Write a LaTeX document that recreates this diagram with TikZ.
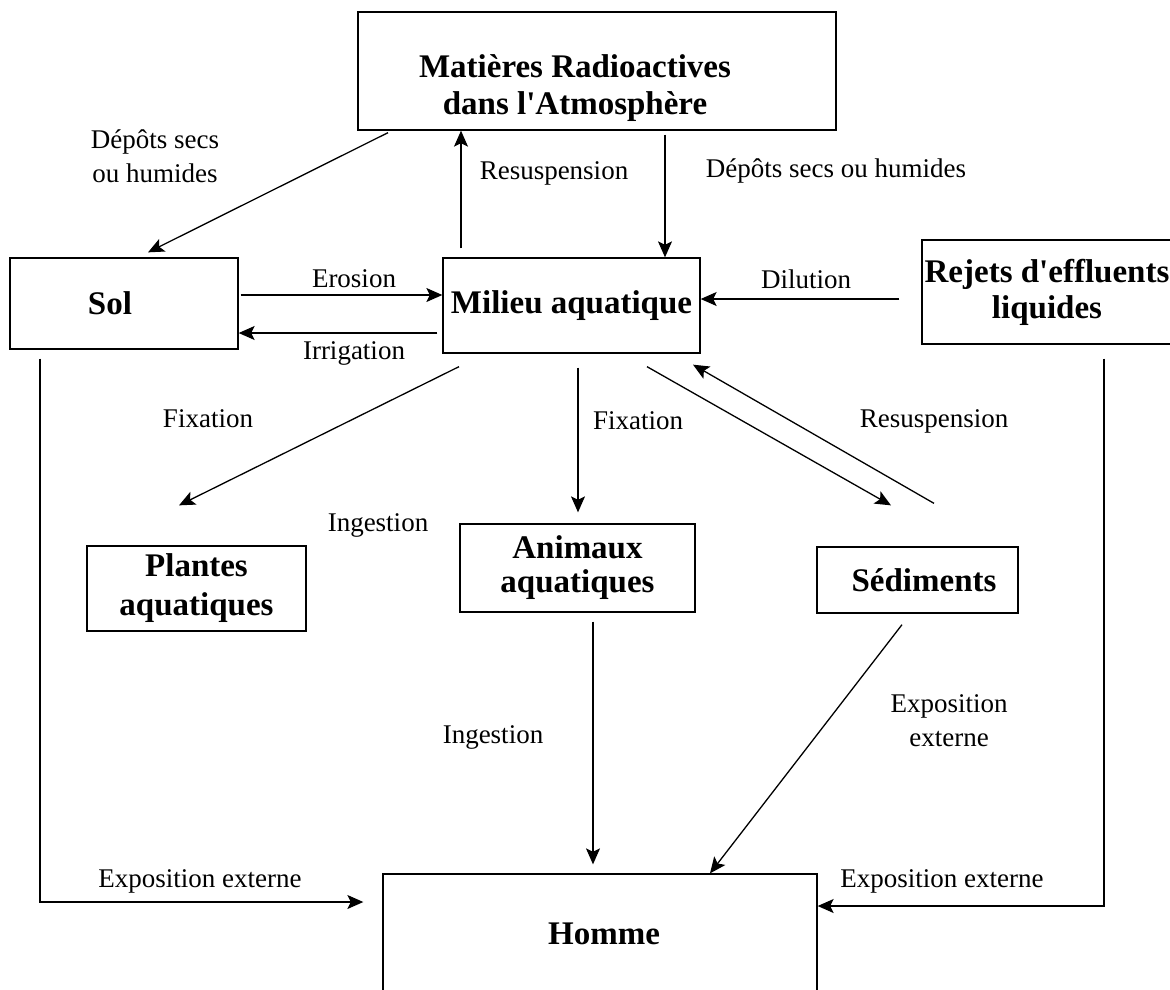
\documentclass[tikz,border=0pt]{standalone}
\usepackage{fontspec}
\setmainfont{Liberation Serif}
\usepackage{tikz}
\usetikzlibrary{arrows.meta, positioning, calc}

\tikzset{
  box/.style={draw, line width=1.3pt, rectangle, inner sep=0pt,
    font=\fontsize{33}{36}\selectfont\bfseries, align=center},
  boxtxt/.style={inner sep=0pt, font=\fontsize{33}{37}\selectfont\bfseries, align=center},
  lbl/.style={inner sep=0pt, font=\fontsize{27}{34}\selectfont, align=center},
  arr/.style={line width=1.3pt, -{Stealth[length=16pt, width=14pt, inset=3.5pt]}},
  wire/.style={line width=1.3pt}
}

\begin{document}
\begin{tikzpicture}[x=1pt, y=-1pt]
  \useasboundingbox (0,0) rectangle (1170,989);

  % Boxes
  \node[box, minimum width=478pt, minimum height=118pt] (atm) at (597,71) {};
  \node[boxtxt] (atmtxt) at (575,88) {Matières Radioactives\\dans l\textquotesingle Atmosphère};
  \node[box, minimum width=228pt, minimum height=91pt] (sol) at (124,303.5) {\hspace*{-28pt}Sol};
  \node[box, minimum width=257pt, minimum height=95pt] (milieu) at (571.5,305.5) {Milieu aquatique};
  \node[box, minimum width=250pt, minimum height=104pt] (rejets) at (1047,292)
    {Rejets d\textquotesingle effluents\\liquides};
  \node[box, minimum width=219pt, minimum height=85pt, font=\fontsize{33}{39}\selectfont\bfseries]
    (plantes) at (196.5,588.5) {Plantes\\aquatiques};
  \node[box, minimum width=235pt, minimum height=88pt, font=\fontsize{33}{34}\selectfont\bfseries]
    (animaux) at (577.5,568) {Animaux\\aquatiques};
  \node[box, minimum width=201pt, minimum height=66pt] (sediments) at (917.5,580)
    {\hspace*{13pt}Sédiments};
  \node[box, minimum width=434pt, minimum height=120pt] (homme) at (600,934)
    {\hspace*{8pt}Homme};

  % Free ends on Homme
  \coordinate (hwin) at ([yshift=32pt]homme.west);
  \coordinate (hein) at ([yshift=28pt]homme.east);

  % Atmosphere exchanges
  \draw[arr] ([xshift=-209pt,yshift=-2pt]atm.south) -- ([xshift=24pt,yshift=5pt]sol.north);
  \draw[arr] ([xshift=-110.5pt,yshift=9pt]milieu.north) -- ([xshift=-136pt]atm.south);
  \draw[arr] ([xshift=68pt,yshift=-4pt]atm.south) -- ([xshift=93.5pt]milieu.north);

  % Sol and milieu
  \draw[arr] ([xshift=2pt,yshift=8.5pt]sol.east) -- ([yshift=8.5pt]sol.east -| milieu.west);
  \draw[arr] ([xshift=-5pt,yshift=-27.5pt]milieu.west) -- ([yshift=-27.5pt]milieu.west -| sol.east);
  \draw[arr] ([xshift=-22pt,yshift=-7pt]rejets.west) -- ([yshift=-7pt]rejets.west -| milieu.east);

  % Fixation
  \draw[arr] ([xshift=-112.5pt,yshift=-13pt]milieu.south) -- ([xshift=-17.5pt,yshift=40pt]plantes.north);
  \draw[arr] ([xshift=6.5pt,yshift=-14pt]milieu.south) -- ([xshift=0.5pt,yshift=11pt]animaux.north);
  \draw[arr] ([xshift=75.5pt,yshift=-13pt]milieu.south) -- ([xshift=-26.5pt,yshift=41pt]sediments.north);
  \draw[arr] ([xshift=16.5pt,yshift=43pt]sediments.north) -- ([xshift=121.5pt,yshift=-11pt]milieu.south);

  % Towards Homme
  \draw[arr, shorten >=9pt] ([xshift=15.5pt,yshift=-9pt]animaux.south) -- ([xshift=15.5pt]animaux.south |- homme.north);
  \draw[arr] ([xshift=-15.5pt,yshift=-11pt]sediments.south) -- ([xshift=110pt]homme.north);
  \draw[arr, shorten >=19pt] ([xshift=-84pt,yshift=-9pt]sol.south) |- (hwin);
  \draw[arr] ([xshift=57pt,yshift=-14pt]rejets.south) |- (hein);

  % Labels
  \node[lbl] (ldepot1) at (155,156) {Dépôts secs\\ou humides};
  \node[lbl] (lresus1) at (554,173) {Resuspension};
  \node[lbl] (ldepot2) at (836,171) {Dépôts secs ou humides};
  \node[lbl] (lerosion) at (354,279) {Erosion};
  \node[lbl] (lirrig) at (354,353) {Irrigation};
  \node[lbl] (ldilut) at (806,279) {Dilution};
  \node[lbl] (lfix1) at (208,419) {Fixation};
  \node[lbl] (lfix2) at (638,421) {Fixation};
  \node[lbl] (lresus2) at (934,421) {Resuspension};
  \node[lbl] (ling1) at (378,525) {Ingestion};
  \node[lbl] (ling2) at (493,737) {Ingestion};
  \node[lbl] (lexpo1) at (949,721) {Exposition\\externe};
  \node[lbl] (lexpo2) at (200,881) {Exposition externe};
  \node[lbl] (lexpo3) at (942,881) {Exposition externe};
\end{tikzpicture}
\end{document}
